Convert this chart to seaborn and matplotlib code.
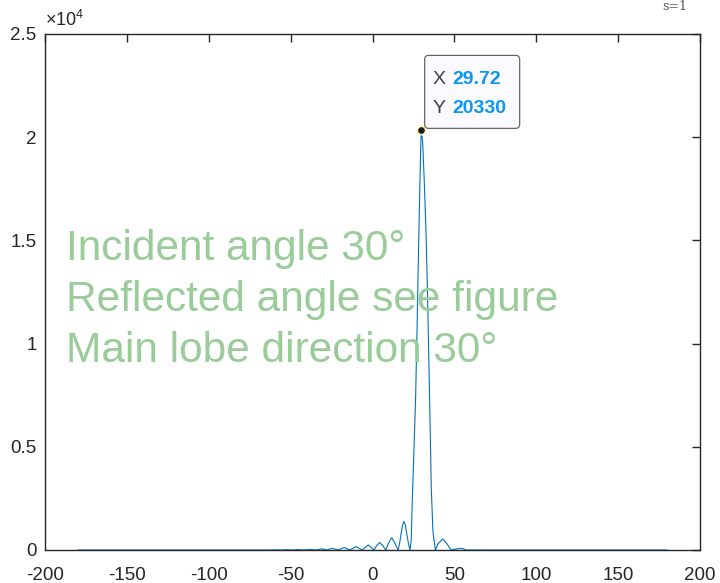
import matplotlib
matplotlib.use("Agg")
import matplotlib.pyplot as plt
import matplotlib.transforms as mtransforms
from matplotlib.patches import FancyBboxPatch
import seaborn as sns

# angle (deg) and array response
angle = [-180, -63.2, -59.6, -56, -52.4, -48.8, -45.2, -41.6, -38, -34.5, -31, -27.8,
         -24.5, -21, -17.4, -13.7, -10, -6.3, -2.6, 0.9, 2.6, 4.4, 6.2, 8.1, 9.9,
         11.7, 13.6, 15.6, 16.5, 17.4, 18.3, 19.2, 20.1, 21.0, 22.0, 22.9, 23.6,
         24.3, 25.3, 26.3, 27.2, 28.0, 28.9, 29.72, 30.6, 31.6, 32.6, 33.5, 34.2,
         34.9, 35.9, 36.9, 38.4, 40.0, 42.9, 45.5, 48.0, 51.0, 54.5, 57.5, 180]
power = [0, 0, 8, 0, 14, 0, 20, 0, 30, 0, 55, 0,
         85, 0, 120, 0, 165, 0, 245, 0, 220, 360, 220, 0, 350,
         600, 350, 0, 300, 750, 1200, 1380, 1200, 750, 300, 0, 400,
         2420, 4800, 7270, 10660, 14050, 17600, 20330, 19800, 17900, 15600, 12800, 10000,
         7270, 3000, 900, 0, 300, 530, 300, 0, 50, 80, 0, 0]

xticks = [-200, -150, -100, -50, 0, 50, 100, 150, 200]
yticks = [0, 5000, 10000, 15000, 20000, 25000]
ylabels = ["0", "0.5", "1", "1.5", "2", "2.5"]
notes = ["Incident angle 30°", "Reflected angle see figure", "Main lobe direction 30°"]
tip_x, tip_y = 29.72, 20330

sns.set_style("white")
plt.rcParams["font.family"] = ["Liberation Sans", "DejaVu Sans"]
plt.rcParams["mathtext.fontset"] = "custom"
plt.rcParams["mathtext.rm"] = "Liberation Sans"

fig = plt.figure(figsize=(7.2, 5.83), dpi=100)
ax = fig.add_axes([45 / 720, 33 / 583, 655 / 720, 516 / 583])

sns.lineplot(x=angle, y=power, ax=ax, color="#0072bd", lw=0.8)

ax.set_xlim(-200, 200)
ax.set_ylim(0, 25000)
ax.set_xticks(xticks)
ax.set_xticklabels([str(t) for t in xticks])
ax.set_yticks(yticks)
ax.set_yticklabels(ylabels)
ax.tick_params(direction="in", length=6, width=1, labelsize=13.5, colors="#262626",
               top=True, right=True, pad=6)
ax.tick_params(axis="x", pad=12)
for s in ax.spines.values():
    s.set_color("#262626")
    s.set_linewidth(1)
ax.text(0.0, 1.008, r"$\times10^{4}$", transform=ax.transAxes, ha="left", va="bottom",
        fontsize=13, color="#262626")

# green annotation text
for i, t in enumerate(notes):
    ax.text(-187, 14600 - i * 2480, t, fontsize=30.5, color="#99cc99", ha="left", va="center")

# data tip
ax.plot([tip_x], [tip_y], "o", ms=6, color="#1a1a1a", mec="#fff5b0", mew=1.2, zorder=5)
tr = fig.dpi_scale_trans + mtransforms.ScaledTranslation(tip_x, tip_y, ax.transData)
box = FancyBboxPatch((0.035, 0.02), 0.95, 0.73, boxstyle="round,pad=0,rounding_size=0.04",
                     transform=tr, fc="#fafaff", ec="#666666", lw=0.9, zorder=6)
ax.add_patch(box)
ax.text(0.11, 0.51, "X", transform=tr, fontsize=14, color="#404040", va="center", zorder=7)
ax.text(0.11, 0.22, "Y", transform=tr, fontsize=14, color="#404040", va="center", zorder=7)
ax.text(0.31, 0.51, f"{tip_x:.2f}", transform=tr, fontsize=14, color="#0d95f2",
        fontweight="bold", va="center", zorder=7)
ax.text(0.31, 0.22, f"{tip_y:.0f}", transform=tr, fontsize=14, color="#0d95f2",
        fontweight="bold", va="center", zorder=7)

# small label at top right
fig.text(675 / 720, 1.0, "s=1", fontsize=9, family="DejaVu Serif", color="#555555",
         ha="center", va="top")

fig.savefig("out.png", dpi=100)
